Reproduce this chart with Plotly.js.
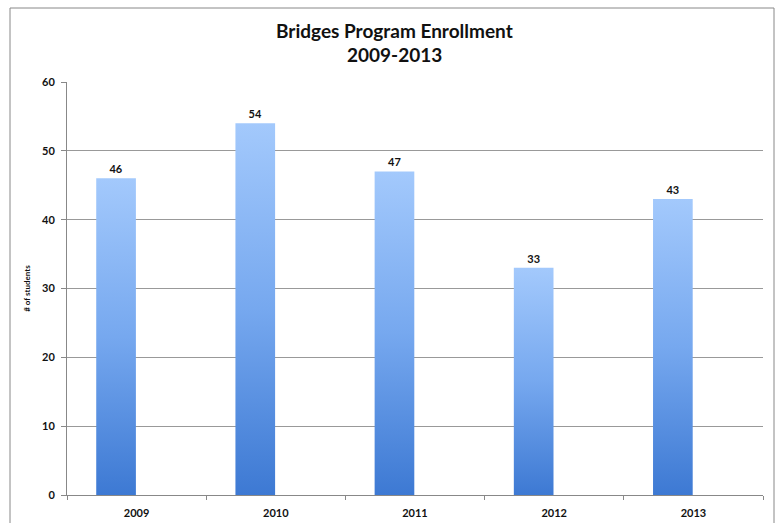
<!DOCTYPE html>
<html>
<head>
<meta charset="utf-8">
<script src="https://cdn.plot.ly/plotly-3.0.1.min.js"></script>
<style>html,body{margin:0;padding:0;background:#fff;}#chart{width:778px;height:523px;}</style>
</head>
<body>
<div id="chart"></div>
<script>
const years = ["2009", "2010", "2011", "2012", "2013"];
const students = [46, 54, 47, 33, 43];
const yTicks = [0, 10, 20, 30, 40, 50, 60];

const W = 778, H = 523, L = 67, R = 15, T = 82, B = 28;
const pw = W - L - R, ph = H - T - B;
const px = v => (v - L) / pw;
const py = v => (H - B - v) / ph;

const font = "Lato, 'Open Sans', sans-serif";

const trace = {
  type: "bar",
  x: years,
  y: students,
  width: 0.285,
  offset: -0.29,
  text: students.map(String),
  textposition: "outside",
  cliponaxis: false,
  textfont: {family: font, size: 11, color: "#111", weight: "bold"},
  marker: {color: "#6fa3ea", line: {width: 0}},
  hoverinfo: "x+y"
};

const layout = {
  width: W, height: H,
  margin: {l: L, r: R, t: T, b: B, pad: 0},
  paper_bgcolor: "#fff", plot_bgcolor: "#fff",
  showlegend: false,
  font: {family: font, color: "#111"},
  xaxis: {
    type: "category",
    tickson: "boundaries",
    ticks: "outside", ticklen: 4, tickcolor: "#888",
    showline: true, linecolor: "#888", linewidth: 1,
    showgrid: false,
    tickfont: {family: font, size: 11, weight: "bold", color: "#111"},
    ticklabelstandoff: 8,
    fixedrange: true
  },
  yaxis: {
    range: [0, 60],
    tickvals: yTicks,
    ticks: "outside", ticklen: 5, tickcolor: "#888",
    showline: true, linecolor: "#888", linewidth: 1,
    showgrid: true, gridcolor: "#999", gridwidth: 1,
    zeroline: true, zerolinecolor: "#888",
    tickfont: {family: font, size: 11, weight: "bold", color: "#111"},
    ticklabelstandoff: 4,
    title: {text: "# of students", font: {family: font, size: 8, weight: "bold", color: "#111"}, standoff: 10},
    fixedrange: true
  },
  annotations: [
    {xref: "paper", yref: "paper", x: px(394), y: py(30), text: "<b>Bridges Program Enrollment</b>",
     showarrow: false, font: {family: font, size: 19, color: "#111"}, xanchor: "center", yanchor: "middle"},
    {xref: "paper", yref: "paper", x: px(394), y: py(55), text: "<b>2009-2013</b>",
     showarrow: false, font: {family: font, size: 19, color: "#111"}, xanchor: "center", yanchor: "middle"}
  ],
  shapes: [
    {type: "rect", xref: "paper", yref: "paper", x0: px(10), x1: px(774), y0: py(540), y1: py(8),
     line: {color: "#888", width: 1}, fillcolor: "rgba(0,0,0,0)", layer: "below"}
  ]
};

Plotly.newPlot("chart", [trace], layout, {displayModeBar: false, staticPlot: true}).then(function(gd){
  const svg = gd.querySelector("svg.main-svg");
  const ns = "http://www.w3.org/2000/svg";
  let defs = svg.querySelector("defs");
  if (!defs) { defs = document.createElementNS(ns, "defs"); svg.insertBefore(defs, svg.firstChild); }
  const g = document.createElementNS(ns, "linearGradient");
  g.setAttribute("id", "barGrad");
  g.setAttribute("x1", "0"); g.setAttribute("y1", "0");
  g.setAttribute("x2", "0"); g.setAttribute("y2", "1");
  [["0", "#a3c9fc"], ["0.5", "#76a8ef"], ["1", "#3d79d3"]].forEach(function(s){
    const st = document.createElementNS(ns, "stop");
    st.setAttribute("offset", s[0]); st.setAttribute("stop-color", s[1]);
    g.appendChild(st);
  });
  defs.appendChild(g);
  gd.querySelectorAll(".bars .point path").forEach(function(p){
    p.style.fill = "url(#barGrad)";
  });
});
</script>
</body>
</html>
